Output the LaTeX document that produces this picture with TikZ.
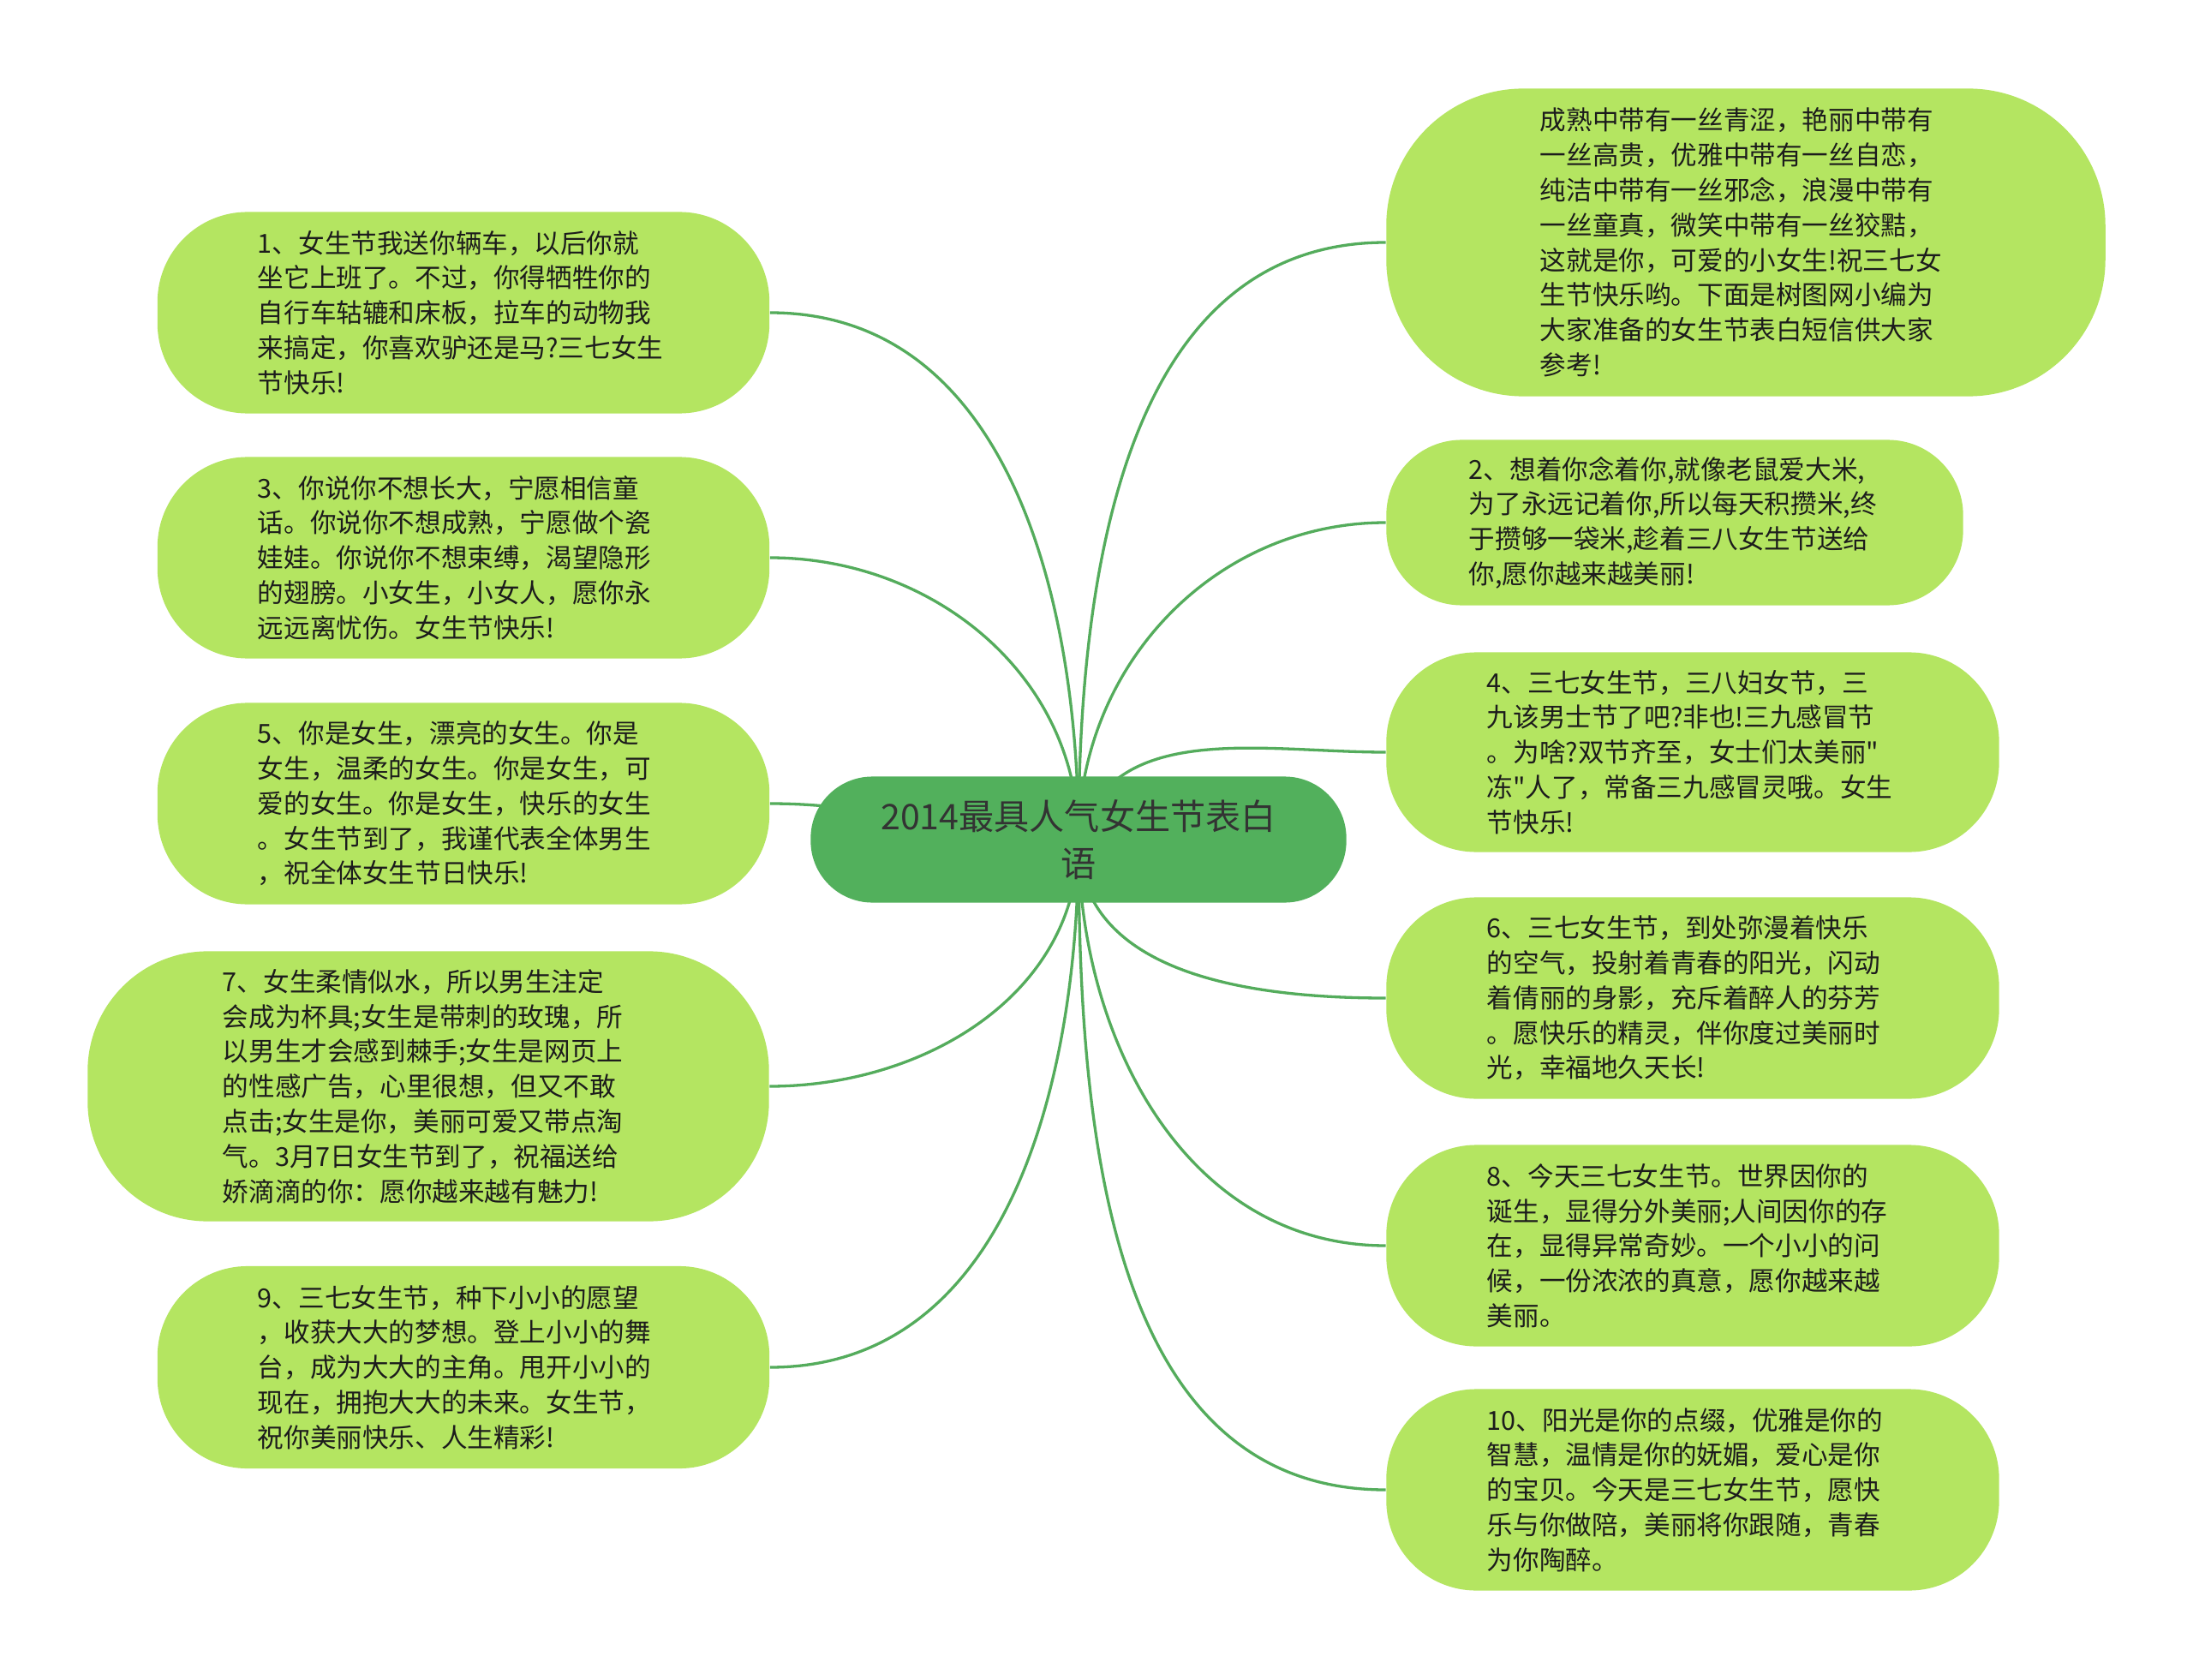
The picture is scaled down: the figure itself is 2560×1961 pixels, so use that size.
\documentclass[tikz,border=0pt]{standalone}
\usepackage{fontspec}
\newfontfamily\cjk{Noto Sans CJK SC}
\usetikzlibrary{backgrounds}
\definecolor{cRoot}{RGB}{82,176,92}
\definecolor{cLeaf}{RGB}{180,229,97}
\definecolor{cLink}{RGB}{84,172,92}
\definecolor{cInk}{RGB}{28,28,28}

\begin{document}
\begin{tikzpicture}[x=0.01cm, y=-0.01cm,
					leaf/.style={fill=cLeaf, text=cInk, inner sep=0pt, align=left, text width=4.8cm, font=\cjk\fontsize{8.7pt}{11.6pt}\selectfont},
					root/.style={fill=cRoot, text=black!80, inner sep=0pt, align=center, font=\cjk\fontsize{11.7pt}{15.8pt}\selectfont},
					link/.style={draw=cLink, line width=0.033cm}]
					\useasboundingbox (0,0) rectangle (2560,1961);
					% centre
					\node[root, minimum width=6.25cm, minimum height=1.47cm, rounded corners=0.72cm] (root) at (1259,980) {2014最具人气女生节表白\\语};
					% left side
					\node[leaf, minimum width=7.14cm, minimum height=2.35cm, rounded corners=1.05cm] (n1) at (541,365) {1、女生节我送你辆车，以后你就\\坐它上班了。不过，你得牺牲你的\\自行车轱辘和床板，拉车的动物我\\来搞定，你喜欢驴还是马?三七女生\\节快乐!};
					\node[leaf, minimum width=7.14cm, minimum height=2.35cm, rounded corners=1.05cm] (n3) at (541,651) {3、你说你不想长大，宁愿相信童\\话。你说你不想成熟，宁愿做个瓷\\娃娃。你说你不想束缚，渴望隐形\\的翅膀。小女生，小女人，愿你永\\远远离忧伤。女生节快乐!};
					\node[leaf, minimum width=7.14cm, minimum height=2.35cm, rounded corners=1.05cm] (n5) at (541,938) {5、你是女生，漂亮的女生。你是\\女生，温柔的女生。你是女生，可\\爱的女生。你是女生，快乐的女生\\。女生节到了，我谨代表全体男生\\，祝全体女生节日快乐!};
					\node[leaf, minimum width=7.95cm, minimum height=3.15cm, rounded corners=1.4cm] (n7) at (500,1268) {7、女生柔情似水，所以男生注定\\会成为杯具;女生是带刺的玫瑰，所\\以男生才会感到棘手;女生是网页上\\的性感广告，心里很想，但又不敢\\点击;女生是你，美丽可爱又带点淘\\气。3月7日女生节到了，祝福送给\\娇滴滴的你：愿你越来越有魅力!};
					\node[leaf, minimum width=7.14cm, minimum height=2.36cm, rounded corners=1.05cm] (n9) at (541,1596) {9、三七女生节，种下小小的愿望\\，收获大大的梦想。登上小小的舞\\台，成为大大的主角。甩开小小的\\现在，拥抱大大的未来。女生节，\\祝你美丽快乐、人生精彩!};
					% right side
					\node[leaf, minimum width=8.39cm, minimum height=3.59cm, rounded corners=1.6cm] (n0) at (2038,283) {成熟中带有一丝青涩，艳丽中带有\\一丝高贵，优雅中带有一丝自恋，\\纯洁中带有一丝邪念，浪漫中带有\\一丝童真，微笑中带有一丝狡黠，\\这就是你，可爱的小女生!祝三七女\\生节快乐哟。下面是树图网小编为\\大家准备的女生节表白短信供大家\\参考!};
					\node[leaf, minimum width=6.73cm, minimum height=1.93cm, rounded corners=0.88cm] (n2) at (1955,610) {2、想着你念着你,就像老鼠爱大米,\\为了永远记着你,所以每天积攒米,终\\于攒够一袋米,趁着三八女生节送给\\你,愿你越来越美丽!};
					\node[leaf, minimum width=7.15cm, minimum height=2.33cm, rounded corners=1.05cm] (n4) at (1976,878) {4、三七女生节，三八妇女节，三\\九该男士节了吧?非也!三九感冒节\\。为啥?双节齐至，女士们太美丽"\\冻"人了，常备三九感冒灵哦。女生\\节快乐!};
					\node[leaf, minimum width=7.15cm, minimum height=2.35cm, rounded corners=1.05cm] (n6) at (1976,1165) {6、三七女生节，到处弥漫着快乐\\的空气，投射着青春的阳光，闪动\\着倩丽的身影，充斥着醉人的芬芳\\。愿快乐的精灵，伴你度过美丽时\\光，幸福地久天长!};
					\node[leaf, minimum width=7.15cm, minimum height=2.35cm, rounded corners=1.05cm] (n8) at (1976,1454) {8、今天三七女生节。世界因你的\\诞生，显得分外美丽;人间因你的存\\在，显得异常奇妙。一个小小的问\\候，一份浓浓的真意，愿你越来越\\美丽。};
					\node[leaf, minimum width=7.15cm, minimum height=2.35cm, rounded corners=1.05cm] (n10) at (1976,1739) {10、阳光是你的点缀，优雅是你的\\智慧，温情是你的妩媚，爱心是你\\的宝贝。今天是三七女生节，愿快\\乐与你做陪，美丽将你跟随，青春\\为你陶醉。};
					% links
					\begin{scope}[on background layer]
						\fill[white] (0,0) rectangle (2560,1961);
						\foreach \n in {n1,n3} \draw[link] (root.center) to[out=90, in=0] (\n.east);
						\draw[link] (root.center) to[out=180, in=0] (n5.east);
						\foreach \n in {n7,n9} \draw[link] (root.center) to[out=-90, in=0] (\n.east);
						\foreach \n in {n0,n2} \draw[link] (root.center) to[out=90, in=180] (\n.west);
						\draw[link] (root.center) to[out=75, in=180] (n4.west);
						\foreach \n in {n6,n8,n10} \draw[link] (root.center) to[out=-90, in=180] (\n.west);
					\end{scope}
				\end{tikzpicture}
\end{document}
